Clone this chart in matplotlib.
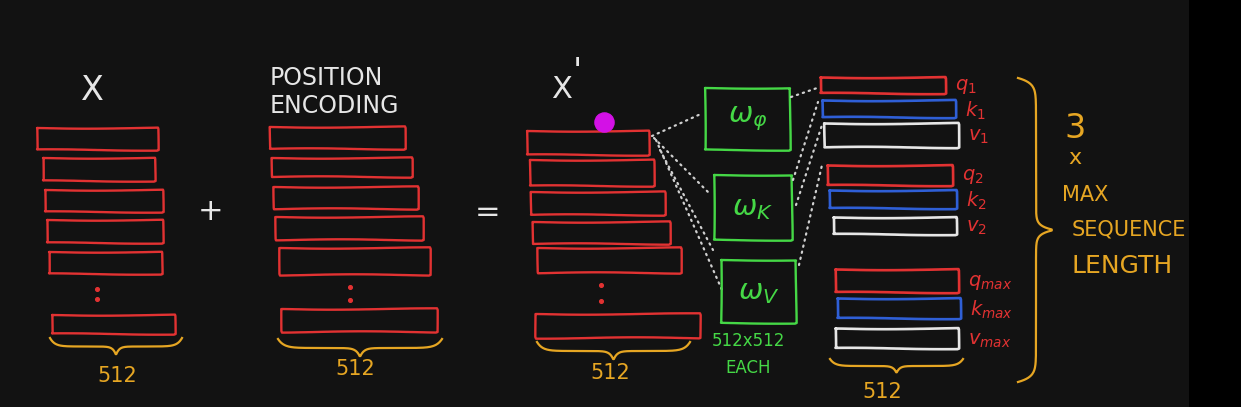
import numpy as np
import matplotlib
matplotlib.use("Agg")
import matplotlib.pyplot as plt

# box extents (x0, x1, y0, y1) in picture pixels
x_boxes = [(37, 158, 128, 150), (43, 155, 158, 181), (45, 163, 190, 212),
           (47, 163, 220, 243), (49, 162, 252, 274), (52, 175, 315, 334)]
pe_boxes = [(270, 405, 127, 149), (272, 412, 158, 177), (274, 418, 187, 209),
            (276, 423, 217, 240), (280, 430, 248, 275), (282, 437, 309, 332)]
xp_boxes = [(527, 649, 131, 155), (530, 654, 160, 186), (531, 665, 192, 215),
            (533, 670, 222, 244), (538, 681, 248, 273), (536, 700, 314, 338)]
w_boxes = [(705, 790, 88, 150), (714, 792, 175, 240), (721, 796, 260, 323)]
w_labels = [r'$\omega_\varphi$', r'$\omega_K$', r'$\omega_V$']
qkv_boxes = [(820, 945, 77, 93), (822, 955, 100, 117), (824, 958, 123, 147),
             (827, 952, 165, 185), (829, 956, 190, 208), (833, 956, 217, 234),
             (835, 958, 269, 292), (837, 960, 298, 318), (835, 958, 328, 348)]
qkv_labels = [r'$q_1$', r'$k_1$', r'$v_1$', r'$q_2$', r'$k_2$', r'$v_2$',
              r'$q_{max}$', r'$k_{max}$', r'$v_{max}$']
qkv_kind = ['q', 'k', 'v'] * 3

RED = '#e23232'
BLUE = '#2f5fd6'
WHITE = '#e6e6e6'
GREEN = '#45d846'
GOLD = '#e6a623'
BG = '#121212'
kind_color = {'q': RED, 'k': BLUE, 'v': WHITE}

fig = plt.figure(figsize=(12.41, 4.07), dpi=100)
fig.patch.set_facecolor(BG)
ax = fig.add_axes([0, 0, 1, 1])
ax.set_facecolor(BG)
ax.set_xlim(0, 1241)
ax.set_ylim(407, 0)
ax.axis('off')

# black strip on the right
ax.fill_between([1189, 1241], 0, 407, color='black', lw=0)


def box(b, color, lw=1.7):
    x0, x1, y0, y1 = b
    line, = ax.plot([x0, x1, x1, x0, x0], [y0, y0, y1, y1, y0], color=color, lw=lw,
                    solid_joinstyle='round', solid_capstyle='round')
    line.set_sketch_params(scale=0.7, length=220, randomness=2)


def hbrace(x0, x1, y, h, color=GOLD):
    t = np.linspace(0, 1, 200)
    xs = x0 + (x1 - x0) * t
    u = np.abs(2 * t - 1)
    ys = y + h * (0.5 * (1 - np.exp(-((1 - u) * 14))) + 0.5 * np.exp(-(u * 22)))
    ax.plot(xs, ys, color=color, lw=1.6)


def vbrace(x, y0, y1, w, color=GOLD):
    t = np.linspace(0, 1, 300)
    ys = y0 + (y1 - y0) * t
    u = np.abs(2 * t - 1)
    xs = x + w * (0.5 * (1 - np.exp(-((1 - u) * 30))) + 0.5 * np.exp(-(u * 40)))
    ax.plot(xs, ys, color=color, lw=1.6)


def dots(x, ys, color=RED):
    ax.scatter([x] * len(ys), ys, s=7, color=color, zorder=3)


def dotted(p, q):
    ax.plot([p[0], q[0]], [p[1], q[1]], color='#d0d0d0', lw=1.6, ls=(0, (0.6, 2.2)),
            dash_capstyle='round')


hand = dict(family='DejaVu Sans', fontweight='normal')

# X stack
for b in x_boxes:
    box(b, RED)
dots(97, [289, 299])
hbrace(50, 182, 338, 17)
ax.text(92, 90, 'X', color=WHITE, fontsize=24, ha='center', va='center', **hand)
ax.text(117, 376, '512', color=GOLD, fontsize=15, ha='center', va='center', **hand)

ax.text(211, 211, '+', color=WHITE, fontsize=22, ha='center', va='center', **hand)

# position encoding stack
for b in pe_boxes:
    box(b, RED)
dots(350, [287, 300])
hbrace(278, 442, 339, 18)
ax.text(270, 78, 'POSITION', color=WHITE, fontsize=17, ha='left', va='center', **hand)
ax.text(270, 106, 'ENCODING', color=WHITE, fontsize=17, ha='left', va='center', **hand)
ax.text(355, 369, '512', color=GOLD, fontsize=15, ha='center', va='center', **hand)

ax.text(488, 213, '=', color=WHITE, fontsize=22, ha='center', va='center', **hand)

# X' stack
for b in xp_boxes:
    box(b, RED)
dots(601, [285, 301])
hbrace(537, 690, 342, 18)
ax.text(562, 90, 'X', color=WHITE, fontsize=22, ha='center', va='center', **hand)
ax.text(577, 72, "'", color=WHITE, fontsize=24, ha='center', va='center', **hand)
ax.text(610, 373, '512', color=GOLD, fontsize=15, ha='center', va='center', **hand)
ax.scatter([604], [122], s=190, color='#d311e6', zorder=4)

# dotted connections from x' to the weight matrices
dotted((652, 136), (703, 113))
dotted((654, 138), (708, 192))
dotted((656, 140), (722, 290))
dotted((660, 150), (713, 250))
# weight matrices
for b, lab in zip(w_boxes, w_labels):
    box(b, GREEN)
    ax.text((b[0] + b[1]) / 2, (b[2] + b[3]) / 2, lab, color=GREEN, fontsize=21,
            ha='center', va='center')
ax.text(748, 341, '512x512', color=GREEN, fontsize=12, ha='center', va='center', **hand)
ax.text(748, 368, 'EACH', color=GREEN, fontsize=12, ha='center', va='center', **hand)

# dotted connections from weight matrices to q, k, v
dotted((791, 97), (820, 87))
dotted((793, 180), (818, 102))
dotted((796, 205), (822, 125))
dotted((799, 265), (822, 165))

# q, k, v vectors
for b, lab, k in zip(qkv_boxes, qkv_labels, qkv_kind):
    box(b, kind_color[k], lw=1.9)
    ax.text(b[1] + 10, (b[2] + b[3]) / 2 + 2, lab, color=RED, fontsize=14,
            ha='left', va='center')
hbrace(830, 963, 359, 14)
ax.text(882, 392, '512', color=GOLD, fontsize=15, ha='center', va='center', **hand)

# big brace and annotation
vbrace(1018, 78, 382, 36)
ax.text(1075, 128, '3', color=GOLD, fontsize=24, ha='center', va='center', **hand)
ax.text(1075, 158, 'x', color=GOLD, fontsize=16, ha='center', va='center', **hand)
ax.text(1062, 195, 'MAX', color=GOLD, fontsize=15, ha='left', va='center', **hand)
ax.text(1072, 229, 'SEQUENCE', color=GOLD, fontsize=15, ha='left', va='center', **hand)
ax.text(1072, 266, 'LENGTH', color=GOLD, fontsize=18, ha='left', va='center', **hand)

fig.savefig('out.png', dpi=100, facecolor=BG)
